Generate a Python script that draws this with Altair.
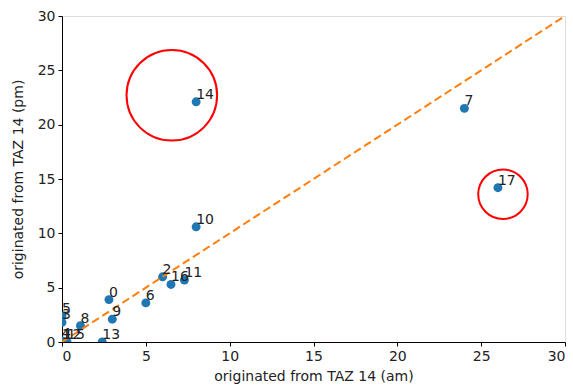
import altair as alt
import pandas as pd

# Trips originated from TAZ 14, morning vs evening, one point per zone
zone_ids = ["0", "1", "2", "3", "4", "5", "6", "7", "8", "9",
            "10", "11", "12", "13", "14", "15", "16", "17"]
am_trips = [2.8, 0.0, 6.0, 0.0, 0.0, 0.0, 5.0, 24.0, 1.1, 3.0,
            8.0, 7.3, 0.1, 2.4, 8.0, 0.3, 6.5, 26.0]
pm_trips = [3.9, 0.0, 6.0, 1.8, 0.1, 2.4, 3.6, 21.5, 1.5, 2.1,
            10.6, 5.7, 0.0, 0.0, 22.1, 0.0, 5.3, 14.2]

# Outliers highlighted with open red rings (centre and ring area)
ring_x = [6.55, 26.3]
ring_y = [22.7, 13.6]
ring_size = [8200, 2450]

# Reference diagonal y = x
diag = [0, 30]

pts = pd.DataFrame({"zone": zone_ids, "am": am_trips, "pm": pm_trips})
rings = pd.DataFrame({"x": ring_x, "y": ring_y, "s": ring_size})
line_df = pd.DataFrame({"x": diag, "y": diag})

xs = alt.Scale(domain=[0, 30], nice=False, zero=False)
ys = alt.Scale(domain=[0, 30], nice=False, zero=False)

ticks = [0, 5, 10, 15, 20, 25, 30]
axis_style = dict(values=ticks, grid=False, tickSize=4, labelPadding=3,
                  domainColor="black", tickColor="black",
                  labelColor="#222222", titleColor="#222222",
                  labelFont="DejaVu Sans", titleFont="DejaVu Sans",
                  labelFontSize=14, titleFontSize=14, titleFontWeight="normal")
x_axis = alt.Axis(title="originated from TAZ 14 (am)", titlePadding=6, **axis_style)
y_axis = alt.Axis(title="originated from TAZ 14 (pm)", titlePadding=12, **axis_style)

points = alt.Chart(pts).mark_circle(size=80, color="#1f77b4", opacity=1, clip=True).encode(
    x=alt.X("am:Q", scale=xs, axis=x_axis),
    y=alt.Y("pm:Q", scale=ys, axis=y_axis),
)

labels = alt.Chart(pts).mark_text(align="left", baseline="bottom", fontSize=14,
                                  font="DejaVu Sans", color="#222222").encode(
    x=alt.X("am:Q", scale=xs),
    y=alt.Y("pm:Q", scale=ys),
    text="zone:N",
)

diagonal = alt.Chart(line_df).mark_line(color="#ff7f0e", strokeDash=[8, 4],
                                        strokeWidth=2, clip=True).encode(
    x=alt.X("x:Q", scale=xs),
    y=alt.Y("y:Q", scale=ys),
)

circles = alt.Chart(rings).mark_point(shape="circle", filled=False, color="red",
                                      strokeWidth=2, opacity=1).encode(
    x=alt.X("x:Q", scale=xs),
    y=alt.Y("y:Q", scale=ys),
    size=alt.Size("s:Q", scale=None, legend=None),
)

chart = alt.layer(points, diagonal, labels, circles).properties(
    width=503, height=326,
    autosize=alt.AutoSizeParams(type="none"),
    padding={"left": 62, "top": 16, "right": 8, "bottom": 48},
).configure_view(stroke="black", strokeWidth=1).configure(background="white")

chart.save("out.html", embed_options={"renderer": "svg", "actions": False})
